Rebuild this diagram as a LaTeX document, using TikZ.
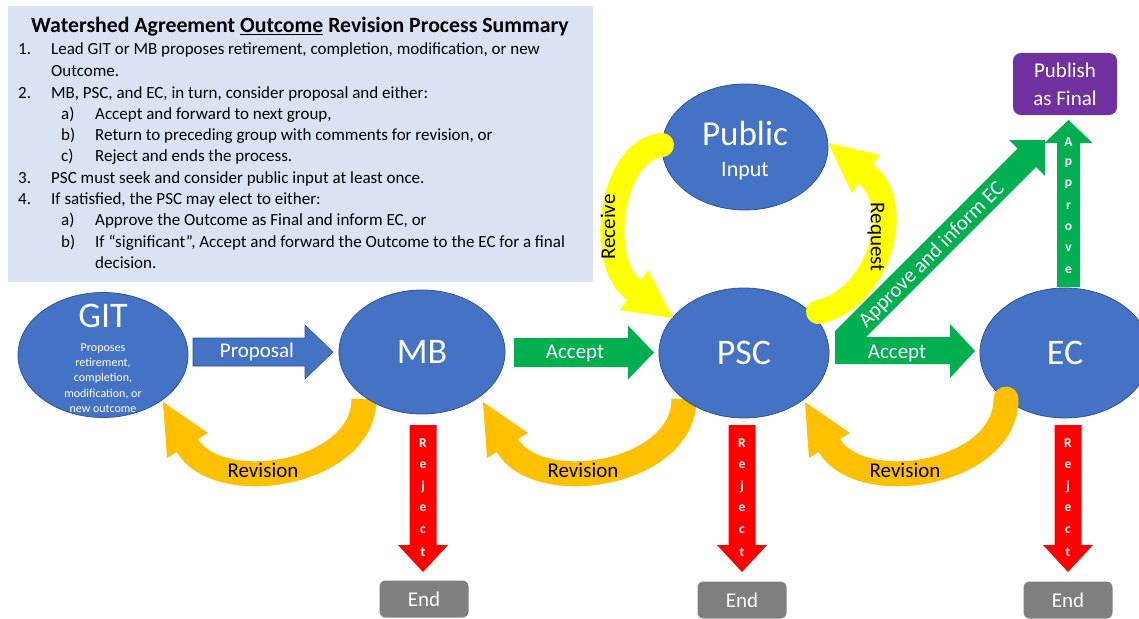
\documentclass[tikz,border=0pt]{standalone}
\usepackage{fontspec}
\setmainfont{Carlito}
\usetikzlibrary{shapes.geometric}
\definecolor{nodeblue}{HTML}{4472C4}
\definecolor{nodeedge}{HTML}{2F5597}
\definecolor{boxblue}{HTML}{DAE3F3}
\definecolor{accgreen}{HTML}{00B050}
\definecolor{revorange}{HTML}{FFC000}
\definecolor{reqyellow}{HTML}{FFFF00}
\definecolor{rejred}{HTML}{FF0000}
\definecolor{pubpurple}{HTML}{7030A0}
\definecolor{endgray}{HTML}{7F7F7F}
\newcommand{\hbarrow}[7]{\filldraw[#1] (#2,{#5-#6}) -- (#3,{#5-#6}) -- (#3,{#5-#7}) -- (#4,#5) -- (#3,{#5+#7}) -- (#3,{#5+#6}) -- (#2,{#5+#6}) -- cycle;}
\newcommand{\vbarrow}[7]{\filldraw[#1] ({#5-#6},#2) -- ({#5-#6},#3) -- ({#5-#7},#3) -- (#5,#4) -- ({#5+#7},#3) -- ({#5+#6},#3) -- ({#5+#6},#2) -- cycle;}
\tikzset{
  ell/.style={ellipse, fill=nodeblue, draw=nodeedge, line width=0.8pt, inner sep=0pt},
  wtxt/.style={text=white, inner sep=0pt},
  btxt/.style={text=black, inner sep=0pt},
  f21/.style={font=\fontsize{21}{25}\selectfont},
  bigtxt/.style={text=white, inner sep=0pt, font=\fontsize{36}{40}\selectfont},
  listtxt/.style={anchor=base west, inner sep=0pt, font=\fontsize{17}{19}\selectfont},
  letter/.style={text=white, inner sep=0pt, font=\fontsize{13.5}{16}\selectfont\bfseries},
  endbox/.style={rounded corners=6pt, fill=endgray, text=white, minimum width=89pt, minimum height=37pt, inner sep=0pt, font=\fontsize{21}{25}\selectfont},
  revband/.style={draw=revorange, line width=25pt},
  yband/.style={draw=reqyellow, line width=24pt, line cap=round},
}
\begin{document}
\begin{tikzpicture}[x=1pt,y=-1pt]
\clip (0,0) rectangle (1139,618);
\fill[white] (0,0) rectangle (1139,618);

% summary box
\node[fill=boxblue, minimum width=585pt, minimum height=276pt, anchor=north west, inner sep=0pt] (summary) at (8,6) {};
\node[anchor=base, inner sep=0pt, font=\fontsize{21.8}{24}\selectfont\bfseries] (title) at (300,33) {Watershed Agreement \underline{Outcome} Revision Process Summary};
\node[listtxt] (n1) at (18,55) {1.};
\node[listtxt] (t1) at (51,55) {Lead GIT or MB proposes retirement, completion, modification, or new};
\node[listtxt] (t1b) at (51,76) {Outcome.};
\node[listtxt] (n2) at (18,98) {2.};
\node[listtxt] (t2) at (51,98) {MB, PSC, and EC, in turn, consider proposal and either:};
\node[listtxt] (n2a) at (61,119) {a)};
\node[listtxt] (t2a) at (95,119) {Accept and forward to next group,};
\node[listtxt] (n2b) at (61,140) {b)};
\node[listtxt] (t2b) at (95,140) {Return to preceding group with comments for revision, or};
\node[listtxt] (n2c) at (61,161) {c)};
\node[listtxt] (t2c) at (95,161) {Reject and ends the process.};
\node[listtxt] (n3) at (18,183) {3.};
\node[listtxt] (t3) at (51,183) {PSC must seek and consider public input at least once.};
\node[listtxt] (n4) at (18,204) {4.};
\node[listtxt] (t4) at (51,204) {If satisfied, the PSC may elect to either:};
\node[listtxt] (n4a) at (61,225) {a)};
\node[listtxt] (t4a) at (95,225) {Approve the Outcome as Final and inform EC, or};
\node[listtxt] (n4b) at (61,247) {b)};
\node[listtxt] (t4b) at (95,247) {If “significant”, Accept and forward the Outcome to the EC for a final};
\node[listtxt] (t4c) at (95,268) {decision.};

% revision bands 1 and 2 (behind ellipses)
\begin{scope}[xshift=-320pt]
  \draw[revband] (684,399) .. controls (684,475) and (538,498) .. (507,445);
  \fill[revorange] (483,402) -- (528,433) -- (487,458) -- cycle;
  \node[btxt, f21] (rev1) at (583,470) {Revision};
\end{scope}
\draw[revband] (684,399) .. controls (684,475) and (538,498) .. (507,445);
\fill[revorange] (483,402) -- (528,433) -- (487,458) -- cycle;
\node[btxt, f21] (rev2) at (583,470) {Revision};

% horizontal arrows
\hbarrow{fill=nodeblue, draw=nodeedge, line width=0.6pt}{193}{305}{333}{352}{14}{27}
\node[wtxt, f21] (prop) at (257,352) {Proposal};
\hbarrow{fill=accgreen, draw=none}{514}{628}{654}{352.5}{14.5}{27}
\node[wtxt, f21] (acc1) at (575,353) {Accept};

% combined accept / approve-and-inform arrow
\fill[accgreen] (835,364) -- (950,364) -- (950,378) -- (975,351) -- (950,324) -- (950,337) -- (866,337)
  -- (1036,167) -- (1045,176) -- (1045,140) -- (1009,140) -- (1017.5,148.5) -- (835,331) -- cycle;
\node[wtxt, f21] (acc2) at (897,353) {Accept};
\node[wtxt, f21, rotate=45] (appinf) at (932,255) {Approve and inform EC};

% approve arrow
\vbarrow{fill=accgreen, draw=none}{287}{143}{120}{1068.5}{11.5}{24}
\foreach \ch [count=\i] in {A,p,p,r,o,v,e}
  \node[letter] (app\i) at (1068.5,{142+21.3*(\i-1)}) {\ch};

% reject arrows
\foreach \xc/\nm in {423/a,742/b,1068/c}{
  \vbarrow{fill=rejred, draw=none}{425}{545}{572}{\xc}{13.5}{25}
  \foreach \ch [count=\i] in {R,e,j,e,c,t}
    \node[letter] (rej\nm\i) at (\xc,{443+21.8*(\i-1)}) {\ch};
}

% end boxes
\node[endbox] (end1) at (424,599) {End};
\node[endbox] (end2) at (742,600) {End};
\node[endbox] (end3) at (1068,600) {End};

% publish box
\node[rounded corners=8pt, fill=pubpurple, minimum width=104pt, minimum height=62pt, inner sep=0pt] (pub) at (1065,84) {};
\node[wtxt, f21] (pub1) at (1065,70) {Publish};
\node[wtxt, f21] (pub2) at (1065,98) {as Final};

% ellipses
\node[ell, minimum width=170pt, minimum height=125pt] (GIT) at (103,355) {};
\node[bigtxt] (gitt) at (103,316) {GIT};
\node[text=white, inner sep=0pt, align=center, font=\fontsize{12}{15.4}\selectfont] (gitd) at (103,378) {Proposes\\retirement,\\completion,\\modification, or\\new outcome};
\node[ell, minimum width=166pt, minimum height=124pt] (MB) at (422,352) {};
\node[bigtxt] (mbt) at (422,352) {MB};
\node[ell, minimum width=170pt, minimum height=130pt] (PSC) at (744,353) {};
\node[bigtxt] (psct) at (744,353) {PSC};
\node[ell, minimum width=170pt, minimum height=130pt] (EC) at (1065,353) {};
\node[bigtxt] (ect) at (1065,353) {EC};
\node[ell, minimum width=166pt, minimum height=126pt] (Public) at (745,147) {};
\node[wtxt, font=\fontsize{35}{38}\selectfont] (pubt) at (745,133) {Public};
\node[wtxt, font=\fontsize{22}{25}\selectfont] (inpt) at (745,171) {Input};

% revision 3 (over EC)
\begin{scope}[xshift=322pt]
  \draw[revband, line cap=round] (684,399) .. controls (684,475) and (538,498) .. (507,445);
  \fill[revorange] (483,402) -- (528,433) -- (487,458) -- cycle;
  \node[btxt, f21] (rev3) at (583,470) {Revision};
\end{scope}

% yellow receive / request
\draw[yband] (662,145) .. controls (610,150) and (596,263) .. (634,290);
\fill[reqyellow] (673,318) -- (620,310) -- (648,270) -- cycle;
\node[btxt, f21, rotate=90] (rcv) at (608,227) {Receive};
\draw[yband] (818,312) .. controls (878,300) and (906,206) .. (866,174);
\fill[reqyellow] (828,143) -- (880,155) -- (852,193) -- cycle;
\node[btxt, f21, rotate=-90] (rqs) at (876,237) {Request};
\end{tikzpicture}
\end{document}
